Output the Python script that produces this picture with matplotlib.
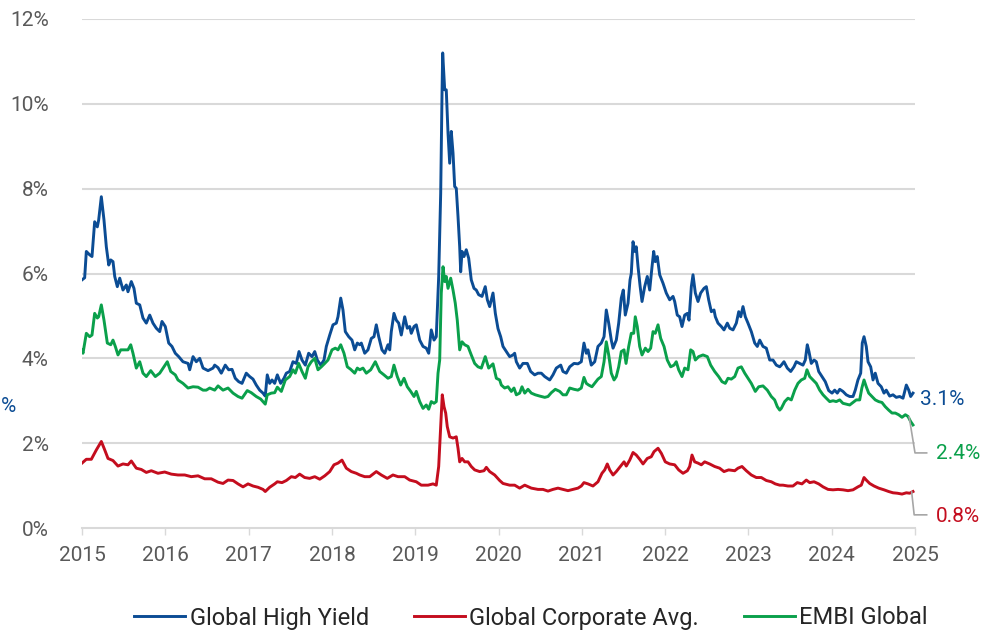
import matplotlib
matplotlib.use("Agg")
import matplotlib.pyplot as plt

# Series: (decimal year, spread in %)
high_yield = [
    (2015.000, 5.85), (2015.032, 5.90), (2015.052, 6.52), (2015.092, 6.44), (2015.120, 6.40),
    (2015.152, 7.22), (2015.184, 7.10), (2015.200, 7.26), (2015.232, 7.81), (2015.264, 7.26),
    (2015.292, 6.63), (2015.321, 6.20), (2015.345, 6.32), (2015.372, 6.28), (2015.393, 5.93),
    (2015.424, 5.69), (2015.453, 5.89), (2015.492, 5.61), (2015.532, 5.73), (2015.552, 5.57),
    (2015.592, 5.81), (2015.624, 5.65), (2015.652, 5.30), (2015.693, 5.26), (2015.732, 4.95),
    (2015.772, 4.83), (2015.813, 5.02), (2015.852, 4.83), (2015.892, 4.71), (2015.933, 4.63),
    (2015.960, 4.87), (2016.000, 4.75), (2016.041, 4.36), (2016.080, 4.28), (2016.120, 4.12),
    (2016.161, 4.04), (2016.212, 3.92), (2016.273, 3.88), (2016.293, 3.73), (2016.333, 4.04),
    (2016.372, 3.92), (2016.413, 4.00), (2016.453, 3.77), (2016.513, 3.71), (2016.573, 3.77),
    (2016.593, 3.84), (2016.633, 3.78), (2016.672, 3.65), (2016.720, 3.84), (2016.761, 3.73),
    (2016.801, 3.74), (2016.840, 3.53), (2016.881, 3.45), (2016.921, 3.41), (2016.972, 3.65),
    (2017.013, 3.57), (2017.053, 3.51), (2017.092, 3.37), (2017.133, 3.25), (2017.173, 3.18),
    (2017.200, 3.11), (2017.224, 3.61), (2017.253, 3.41), (2017.281, 3.49), (2017.313, 3.41),
    (2017.345, 3.61), (2017.385, 3.41), (2017.425, 3.53), (2017.453, 3.65), (2017.493, 3.69),
    (2017.533, 3.92), (2017.573, 3.88), (2017.605, 4.16), (2017.641, 3.96), (2017.681, 3.84),
    (2017.721, 4.12), (2017.761, 4.04), (2017.794, 4.16), (2017.825, 3.96), (2017.866, 3.84),
    (2017.905, 3.96), (2017.933, 4.28), (2017.974, 4.55), (2018.013, 4.79), (2018.053, 4.83),
    (2018.073, 4.98), (2018.106, 5.42), (2018.133, 5.14), (2018.161, 4.63), (2018.202, 4.51),
    (2018.241, 4.43), (2018.274, 4.20), (2018.305, 4.36), (2018.334, 4.32), (2018.353, 4.36),
    (2018.394, 4.12), (2018.433, 4.20), (2018.473, 4.47), (2018.505, 4.51), (2018.533, 4.79),
    (2018.562, 4.51), (2018.601, 4.20), (2018.634, 4.12), (2018.673, 4.32), (2018.694, 4.20),
    (2018.713, 4.63), (2018.745, 5.06), (2018.773, 4.90), (2018.802, 4.83), (2018.833, 4.55),
    (2018.874, 4.98), (2018.905, 4.71), (2018.934, 4.75), (2018.953, 4.59), (2018.986, 4.75),
    (2019.013, 4.79), (2019.054, 4.43), (2019.094, 4.28), (2019.133, 4.24), (2019.162, 4.12),
    (2019.193, 4.67), (2019.226, 4.43), (2019.253, 4.51), (2019.282, 5.93), (2019.306, 7.89),
    (2019.322, 10.25), (2019.330, 11.20), (2019.354, 10.33), (2019.373, 10.33), (2019.394, 9.31),
    (2019.414, 8.60), (2019.433, 9.35), (2019.454, 8.84), (2019.474, 8.05), (2019.493, 8.01),
    (2019.514, 7.34), (2019.534, 6.63), (2019.546, 6.04), (2019.562, 6.52), (2019.586, 6.40),
    (2019.613, 6.56), (2019.642, 6.36), (2019.673, 5.85), (2019.706, 5.65), (2019.733, 5.61),
    (2019.762, 5.50), (2019.802, 5.46), (2019.841, 5.69), (2019.866, 5.38), (2019.894, 5.22),
    (2019.934, 5.54), (2019.962, 5.06), (2019.994, 4.70), (2020.026, 4.51), (2020.054, 4.28),
    (2020.094, 4.16), (2020.134, 4.04), (2020.174, 4.08), (2020.194, 4.12), (2020.214, 3.92),
    (2020.254, 3.77), (2020.294, 3.88), (2020.346, 3.88), (2020.386, 3.69), (2020.434, 3.61),
    (2020.474, 3.65), (2020.514, 3.65), (2020.555, 3.57), (2020.615, 3.49), (2020.654, 3.61),
    (2020.694, 3.77), (2020.747, 3.84), (2020.774, 3.69), (2020.814, 3.65), (2020.855, 3.80),
    (2020.906, 3.88), (2020.954, 3.87), (2020.994, 3.92), (2021.026, 4.36), (2021.054, 4.12),
    (2021.074, 4.20), (2021.114, 3.84), (2021.155, 3.92), (2021.194, 4.28), (2021.234, 4.36),
    (2021.267, 4.51), (2021.294, 5.14), (2021.323, 4.83), (2021.354, 4.43), (2021.375, 4.24),
    (2021.414, 4.43), (2021.443, 4.83), (2021.474, 5.42), (2021.498, 5.61), (2021.522, 5.02),
    (2021.555, 5.30), (2021.579, 5.85), (2021.594, 6.00), (2021.615, 6.75), (2021.635, 6.52),
    (2021.654, 6.63), (2021.675, 6.16), (2021.700, 5.70), (2021.723, 5.34), (2021.755, 5.69),
    (2021.786, 5.93), (2021.815, 5.61), (2021.843, 6.16), (2021.863, 6.52), (2021.882, 6.28),
    (2021.906, 6.40), (2021.935, 5.97), (2021.975, 5.77), (2022.014, 5.54), (2022.055, 5.38),
    (2022.095, 5.46), (2022.115, 5.34), (2022.146, 5.02), (2022.175, 4.98), (2022.203, 4.75),
    (2022.235, 5.02), (2022.267, 5.06), (2022.287, 4.90), (2022.315, 5.69), (2022.335, 5.97),
    (2022.363, 5.54), (2022.395, 5.34), (2022.427, 5.54), (2022.467, 5.65), (2022.495, 5.69),
    (2022.523, 5.38), (2022.555, 5.10), (2022.587, 5.14), (2022.603, 4.98), (2022.635, 4.83),
    (2022.675, 4.75), (2022.707, 4.67), (2022.747, 4.83), (2022.776, 4.71), (2022.815, 4.67),
    (2022.855, 4.83), (2022.884, 5.10), (2022.908, 4.98), (2022.935, 5.22), (2022.963, 4.98),
    (2022.995, 4.83), (2023.035, 4.63), (2023.076, 4.36), (2023.107, 4.28), (2023.136, 4.43),
    (2023.175, 4.28), (2023.215, 4.24), (2023.256, 3.96), (2023.295, 3.96), (2023.335, 3.84),
    (2023.376, 3.80), (2023.395, 3.84), (2023.427, 3.92), (2023.467, 3.77), (2023.508, 3.69),
    (2023.547, 3.80), (2023.575, 3.92), (2023.616, 3.88), (2023.655, 3.84), (2023.683, 3.96),
    (2023.707, 4.32), (2023.727, 4.16), (2023.755, 3.88), (2023.788, 3.96), (2023.815, 3.92),
    (2023.844, 3.69), (2023.884, 3.57), (2023.923, 3.45), (2023.964, 3.24), (2024.004, 3.18),
    (2024.036, 3.25), (2024.067, 3.18), (2024.096, 3.27), (2024.135, 3.22), (2024.175, 3.14),
    (2024.216, 3.10), (2024.256, 3.10), (2024.283, 3.25), (2024.315, 3.49), (2024.348, 3.65),
    (2024.367, 4.36), (2024.388, 4.51), (2024.415, 4.28), (2024.436, 3.92), (2024.468, 3.80),
    (2024.496, 3.49), (2024.523, 3.65), (2024.556, 3.41), (2024.595, 3.33), (2024.628, 3.18),
    (2024.655, 3.25), (2024.696, 3.11), (2024.736, 3.14), (2024.775, 3.08), (2024.816, 3.10),
    (2024.856, 3.06), (2024.896, 3.37), (2024.925, 3.25), (2024.948, 3.10), (2024.976, 3.18),
]

corporate = [
    (2015.000, 1.53), (2015.052, 1.62), (2015.112, 1.62), (2015.172, 1.84), (2015.232, 2.04),
    (2015.273, 1.84), (2015.312, 1.64), (2015.372, 1.59), (2015.432, 1.46), (2015.492, 1.51),
    (2015.552, 1.49), (2015.592, 1.58), (2015.652, 1.41), (2015.712, 1.38), (2015.772, 1.31),
    (2015.832, 1.35), (2015.912, 1.29), (2015.993, 1.32), (2016.072, 1.27), (2016.152, 1.25),
    (2016.233, 1.25), (2016.312, 1.21), (2016.393, 1.23), (2016.473, 1.16), (2016.552, 1.16),
    (2016.633, 1.08), (2016.693, 1.05), (2016.753, 1.13), (2016.813, 1.12), (2016.873, 1.04),
    (2016.933, 0.97), (2016.993, 1.04), (2017.053, 0.99), (2017.113, 0.96), (2017.173, 0.91),
    (2017.200, 0.86), (2017.253, 0.96), (2017.313, 1.04), (2017.345, 1.09), (2017.401, 1.07),
    (2017.453, 1.12), (2017.513, 1.21), (2017.561, 1.19), (2017.613, 1.27), (2017.673, 1.19),
    (2017.733, 1.17), (2017.794, 1.21), (2017.854, 1.15), (2017.914, 1.23), (2017.974, 1.33),
    (2018.025, 1.49), (2018.073, 1.53), (2018.121, 1.60), (2018.173, 1.41), (2018.233, 1.33),
    (2018.293, 1.29), (2018.334, 1.25), (2018.394, 1.21), (2018.454, 1.21), (2018.533, 1.33),
    (2018.593, 1.25), (2018.665, 1.17), (2018.733, 1.25), (2018.794, 1.21), (2018.874, 1.21),
    (2018.934, 1.13), (2019.013, 1.09), (2019.073, 1.01), (2019.154, 1.01), (2019.214, 1.04),
    (2019.253, 1.01), (2019.282, 1.45), (2019.306, 2.39), (2019.325, 3.14), (2019.346, 2.86),
    (2019.366, 2.71), (2019.385, 2.39), (2019.414, 2.15), (2019.454, 2.12), (2019.493, 2.15),
    (2019.514, 1.88), (2019.534, 1.56), (2019.562, 1.64), (2019.594, 1.56), (2019.634, 1.56),
    (2019.673, 1.45), (2019.714, 1.37), (2019.774, 1.33), (2019.826, 1.35), (2019.854, 1.43),
    (2019.894, 1.33), (2019.954, 1.25), (2020.014, 1.12), (2020.054, 1.05), (2020.134, 1.01),
    (2020.194, 1.01), (2020.254, 0.94), (2020.315, 1.01), (2020.394, 0.94), (2020.474, 0.91),
    (2020.534, 0.91), (2020.594, 0.87), (2020.654, 0.91), (2020.714, 0.94), (2020.774, 0.91),
    (2020.834, 0.88), (2020.894, 0.91), (2020.954, 0.94), (2020.994, 0.99), (2021.026, 1.07),
    (2021.074, 1.04), (2021.134, 0.99), (2021.194, 1.09), (2021.242, 1.29), (2021.275, 1.37),
    (2021.306, 1.51), (2021.335, 1.37), (2021.375, 1.25), (2021.414, 1.33), (2021.467, 1.46),
    (2021.507, 1.56), (2021.534, 1.46), (2021.575, 1.60), (2021.615, 1.78), (2021.654, 1.72),
    (2021.695, 1.62), (2021.735, 1.51), (2021.786, 1.64), (2021.834, 1.68), (2021.867, 1.80),
    (2021.915, 1.88), (2021.955, 1.76), (2022.002, 1.56), (2022.055, 1.51), (2022.115, 1.49),
    (2022.163, 1.37), (2022.215, 1.29), (2022.267, 1.35), (2022.295, 1.45), (2022.323, 1.72),
    (2022.355, 1.56), (2022.395, 1.53), (2022.435, 1.49), (2022.475, 1.56), (2022.535, 1.51),
    (2022.595, 1.45), (2022.655, 1.41), (2022.707, 1.33), (2022.763, 1.37), (2022.836, 1.35),
    (2022.875, 1.41), (2022.923, 1.45), (2022.975, 1.35), (2023.035, 1.25), (2023.095, 1.19),
    (2023.155, 1.19), (2023.215, 1.12), (2023.275, 1.09), (2023.323, 1.04), (2023.376, 1.01),
    (2023.415, 1.01), (2023.475, 0.99), (2023.535, 0.99), (2023.587, 1.07), (2023.643, 1.04),
    (2023.695, 1.13), (2023.736, 1.07), (2023.788, 1.09), (2023.844, 1.04), (2023.896, 0.97),
    (2023.956, 0.91), (2024.016, 0.90), (2024.076, 0.91), (2024.135, 0.90), (2024.196, 0.88),
    (2024.256, 0.90), (2024.315, 0.97), (2024.355, 1.01), (2024.388, 1.19), (2024.415, 1.13),
    (2024.456, 1.05), (2024.508, 0.99), (2024.564, 0.94), (2024.628, 0.90), (2024.684, 0.86),
    (2024.736, 0.83), (2024.788, 0.82), (2024.844, 0.80), (2024.896, 0.83), (2024.936, 0.82),
    (2024.976, 0.86),
]

embi = [
    (2015.000, 4.20), (2015.012, 4.12), (2015.052, 4.59), (2015.092, 4.51), (2015.120, 4.55),
    (2015.152, 5.06), (2015.184, 4.95), (2015.200, 4.98), (2015.232, 5.26), (2015.264, 4.90),
    (2015.304, 4.36), (2015.345, 4.32), (2015.372, 4.43), (2015.400, 4.28), (2015.432, 4.08),
    (2015.465, 4.20), (2015.513, 4.20), (2015.552, 4.20), (2015.585, 4.32), (2015.612, 4.12),
    (2015.652, 3.77), (2015.693, 3.92), (2015.732, 3.65), (2015.772, 3.57), (2015.825, 3.71),
    (2015.880, 3.57), (2015.933, 3.65), (2015.984, 3.80), (2016.024, 3.92), (2016.065, 3.69),
    (2016.120, 3.61), (2016.152, 3.49), (2016.212, 3.41), (2016.273, 3.30), (2016.333, 3.33),
    (2016.393, 3.32), (2016.453, 3.25), (2016.492, 3.25), (2016.533, 3.30), (2016.593, 3.25),
    (2016.633, 3.35), (2016.693, 3.25), (2016.753, 3.30), (2016.813, 3.18), (2016.873, 3.10),
    (2016.921, 3.06), (2016.984, 3.24), (2017.032, 3.19), (2017.092, 3.10), (2017.145, 3.04),
    (2017.200, 2.92), (2017.224, 3.14), (2017.273, 3.18), (2017.313, 3.19), (2017.345, 3.32),
    (2017.393, 3.22), (2017.441, 3.49), (2017.493, 3.57), (2017.533, 3.73), (2017.561, 3.65),
    (2017.601, 3.88), (2017.641, 3.69), (2017.681, 3.53), (2017.713, 3.80), (2017.753, 3.92),
    (2017.794, 4.00), (2017.833, 3.73), (2017.873, 3.80), (2017.914, 3.88), (2017.953, 3.96),
    (2018.001, 4.20), (2018.041, 4.24), (2018.073, 4.20), (2018.106, 4.32), (2018.145, 4.12),
    (2018.185, 3.80), (2018.226, 3.74), (2018.274, 3.65), (2018.305, 3.77), (2018.334, 3.73),
    (2018.373, 3.77), (2018.413, 3.65), (2018.466, 3.73), (2018.521, 3.92), (2018.574, 3.69),
    (2018.625, 3.61), (2018.673, 3.53), (2018.713, 3.57), (2018.745, 3.84), (2018.785, 3.57),
    (2018.826, 3.37), (2018.866, 3.53), (2018.905, 3.33), (2018.946, 3.22), (2018.986, 3.10),
    (2019.013, 3.22), (2019.054, 2.98), (2019.094, 2.82), (2019.133, 2.90), (2019.162, 2.80),
    (2019.193, 2.98), (2019.226, 2.94), (2019.253, 2.98), (2019.274, 3.65), (2019.294, 3.96),
    (2019.313, 5.54), (2019.334, 6.16), (2019.354, 5.81), (2019.373, 5.93), (2019.394, 5.65),
    (2019.426, 5.89), (2019.454, 5.61), (2019.481, 5.30), (2019.505, 4.90), (2019.534, 4.20),
    (2019.562, 4.39), (2019.594, 4.32), (2019.634, 4.28), (2019.673, 4.08), (2019.714, 3.88),
    (2019.754, 3.80), (2019.794, 3.77), (2019.841, 4.04), (2019.882, 3.77), (2019.934, 3.87),
    (2019.974, 3.53), (2020.014, 3.49), (2020.034, 3.37), (2020.074, 3.30), (2020.114, 3.33),
    (2020.154, 3.22), (2020.186, 3.30), (2020.214, 3.14), (2020.254, 3.18), (2020.282, 3.33),
    (2020.315, 3.18), (2020.354, 3.27), (2020.394, 3.18), (2020.442, 3.14), (2020.495, 3.11),
    (2020.555, 3.08), (2020.594, 3.10), (2020.634, 3.19), (2020.682, 3.27), (2020.735, 3.22),
    (2020.774, 3.14), (2020.814, 3.14), (2020.855, 3.30), (2020.906, 3.27), (2020.954, 3.25),
    (2020.994, 3.30), (2021.026, 3.55), (2021.054, 3.41), (2021.083, 3.37), (2021.122, 3.33),
    (2021.162, 3.43), (2021.194, 3.51), (2021.234, 3.57), (2021.267, 3.92), (2021.294, 4.39),
    (2021.323, 4.08), (2021.354, 3.65), (2021.387, 3.49), (2021.414, 3.57), (2021.443, 3.80),
    (2021.474, 4.16), (2021.507, 4.20), (2021.531, 3.88), (2021.563, 4.28), (2021.594, 4.59),
    (2021.623, 4.59), (2021.642, 4.98), (2021.666, 4.75), (2021.695, 4.28), (2021.723, 4.08),
    (2021.763, 4.24), (2021.795, 4.16), (2021.827, 4.24), (2021.855, 4.63), (2021.882, 4.59),
    (2021.915, 4.79), (2021.947, 4.47), (2021.987, 4.28), (2022.026, 3.96), (2022.067, 3.80),
    (2022.107, 3.84), (2022.134, 3.92), (2022.163, 3.73), (2022.203, 3.57), (2022.235, 3.77),
    (2022.275, 3.73), (2022.307, 4.20), (2022.335, 4.16), (2022.363, 3.96), (2022.403, 4.04),
    (2022.455, 4.08), (2022.507, 4.04), (2022.547, 3.84), (2022.595, 3.69), (2022.643, 3.57),
    (2022.683, 3.45), (2022.723, 3.41), (2022.755, 3.53), (2022.795, 3.51), (2022.836, 3.57),
    (2022.875, 3.77), (2022.915, 3.80), (2022.956, 3.65), (2022.995, 3.53), (2023.035, 3.41),
    (2023.083, 3.22), (2023.124, 3.33), (2023.175, 3.35), (2023.227, 3.25), (2023.275, 3.10),
    (2023.315, 3.02), (2023.347, 2.86), (2023.376, 2.78), (2023.395, 2.82), (2023.436, 2.98),
    (2023.475, 3.06), (2023.515, 3.02), (2023.556, 3.25), (2023.595, 3.41), (2023.635, 3.49),
    (2023.676, 3.53), (2023.703, 3.73), (2023.736, 3.57), (2023.776, 3.49), (2023.815, 3.41),
    (2023.856, 3.25), (2023.896, 3.14), (2023.935, 3.06), (2023.976, 2.98), (2024.016, 3.00),
    (2024.055, 2.98), (2024.096, 3.02), (2024.135, 2.94), (2024.175, 2.92), (2024.216, 2.90),
    (2024.256, 2.96), (2024.295, 3.02), (2024.336, 3.02), (2024.362, 3.30), (2024.388, 3.49),
    (2024.415, 3.33), (2024.444, 3.18), (2024.484, 3.10), (2024.523, 3.02), (2024.564, 2.98),
    (2024.603, 2.96), (2024.643, 2.86), (2024.684, 2.78), (2024.724, 2.71), (2024.764, 2.71),
    (2024.804, 2.67), (2024.844, 2.61), (2024.884, 2.67), (2024.916, 2.63), (2024.948, 2.51),
    (2024.976, 2.43),
]

series_names = ["Global High Yield", "Global Corporate Avg.", "EMBI Global"]
end_labels = ["3.1%", "0.8%", "2.4%"]
year_ticks = list(range(2015, 2026))
pct_ticks = [0, 2, 4, 6, 8, 10, 12]

BLUE = "#0b4c94"
RED = "#c40d1e"
GREEN = "#0aa04b"
GREY_TXT = "#595959"
GRID = "#d9d9d9"
LEADER = "#a6a6a6"

plt.rcParams["font.family"] = ["Roboto", "DejaVu Sans"]

fig = plt.figure(figsize=(9.94, 6.37), dpi=100)
ax = fig.add_axes([82 / 994, 1 - 528 / 637, 833 / 994, 509 / 637])

for data, color, name in zip([high_yield, corporate, embi], [BLUE, RED, GREEN], series_names):
    t, v = zip(*data)
    ax.plot(t, v, color=color, lw=2.1, label=name, solid_joinstyle="round")

ax.set_xlim(2015, 2025)
ax.set_ylim(0, 12)
ax.set_xticks(year_ticks)
ax.set_xticklabels([str(y) for y in year_ticks])
ax.set_yticks(pct_ticks)
ax.set_yticklabels([f"{p}%" for p in pct_ticks])

for p in pct_ticks[1:]:
    ax.axhline(p, color=GRID, lw=1.5, zorder=0)

for side in ["top", "right", "left"]:
    ax.spines[side].set_visible(False)
ax.spines["bottom"].set_color(GRID)
ax.spines["bottom"].set_linewidth(1.5)
ax.spines["bottom"].set_zorder(0)

ax.tick_params(axis="x", length=5, width=1, colors=GREY_TXT, labelsize=15, pad=8)
ax.tick_params(axis="x", color=GRID)
ax.tick_params(axis="y", length=0, colors=GREY_TXT, labelsize=15, pad=24)

# end-of-series labels with grey leaders
ax.text(2025.06, 3.02, end_labels[0], color=BLUE, fontsize=15, va="center", ha="left", clip_on=False)
ax.plot([2024.93, 2025.0, 2025.14], [2.62, 1.77, 1.77], color=LEADER, lw=1.2, clip_on=False)
ax.text(2025.25, 1.75, end_labels[2], color=GREEN, fontsize=15, va="center", ha="left", clip_on=False)
ax.plot([2024.96, 2024.99, 2025.14], [0.85, 0.31, 0.31], color=LEADER, lw=1.2, clip_on=False)
ax.text(2025.25, 0.28, end_labels[1], color=RED, fontsize=15, va="center", ha="left", clip_on=False)

# stray label at the far left edge
fig.text(1 / 994, 1 - 407 / 637, "%", color=BLUE, fontsize=15, ha="left", va="center")

fig.legend(loc="center", bbox_to_anchor=(531 / 994, 1 - 618 / 637), ncol=3, frameon=False,
           fontsize=17, handlelength=2.15, handletextpad=0.2, columnspacing=1.9,
           labelcolor="#262626")

fig.savefig("out.png", dpi=100)
